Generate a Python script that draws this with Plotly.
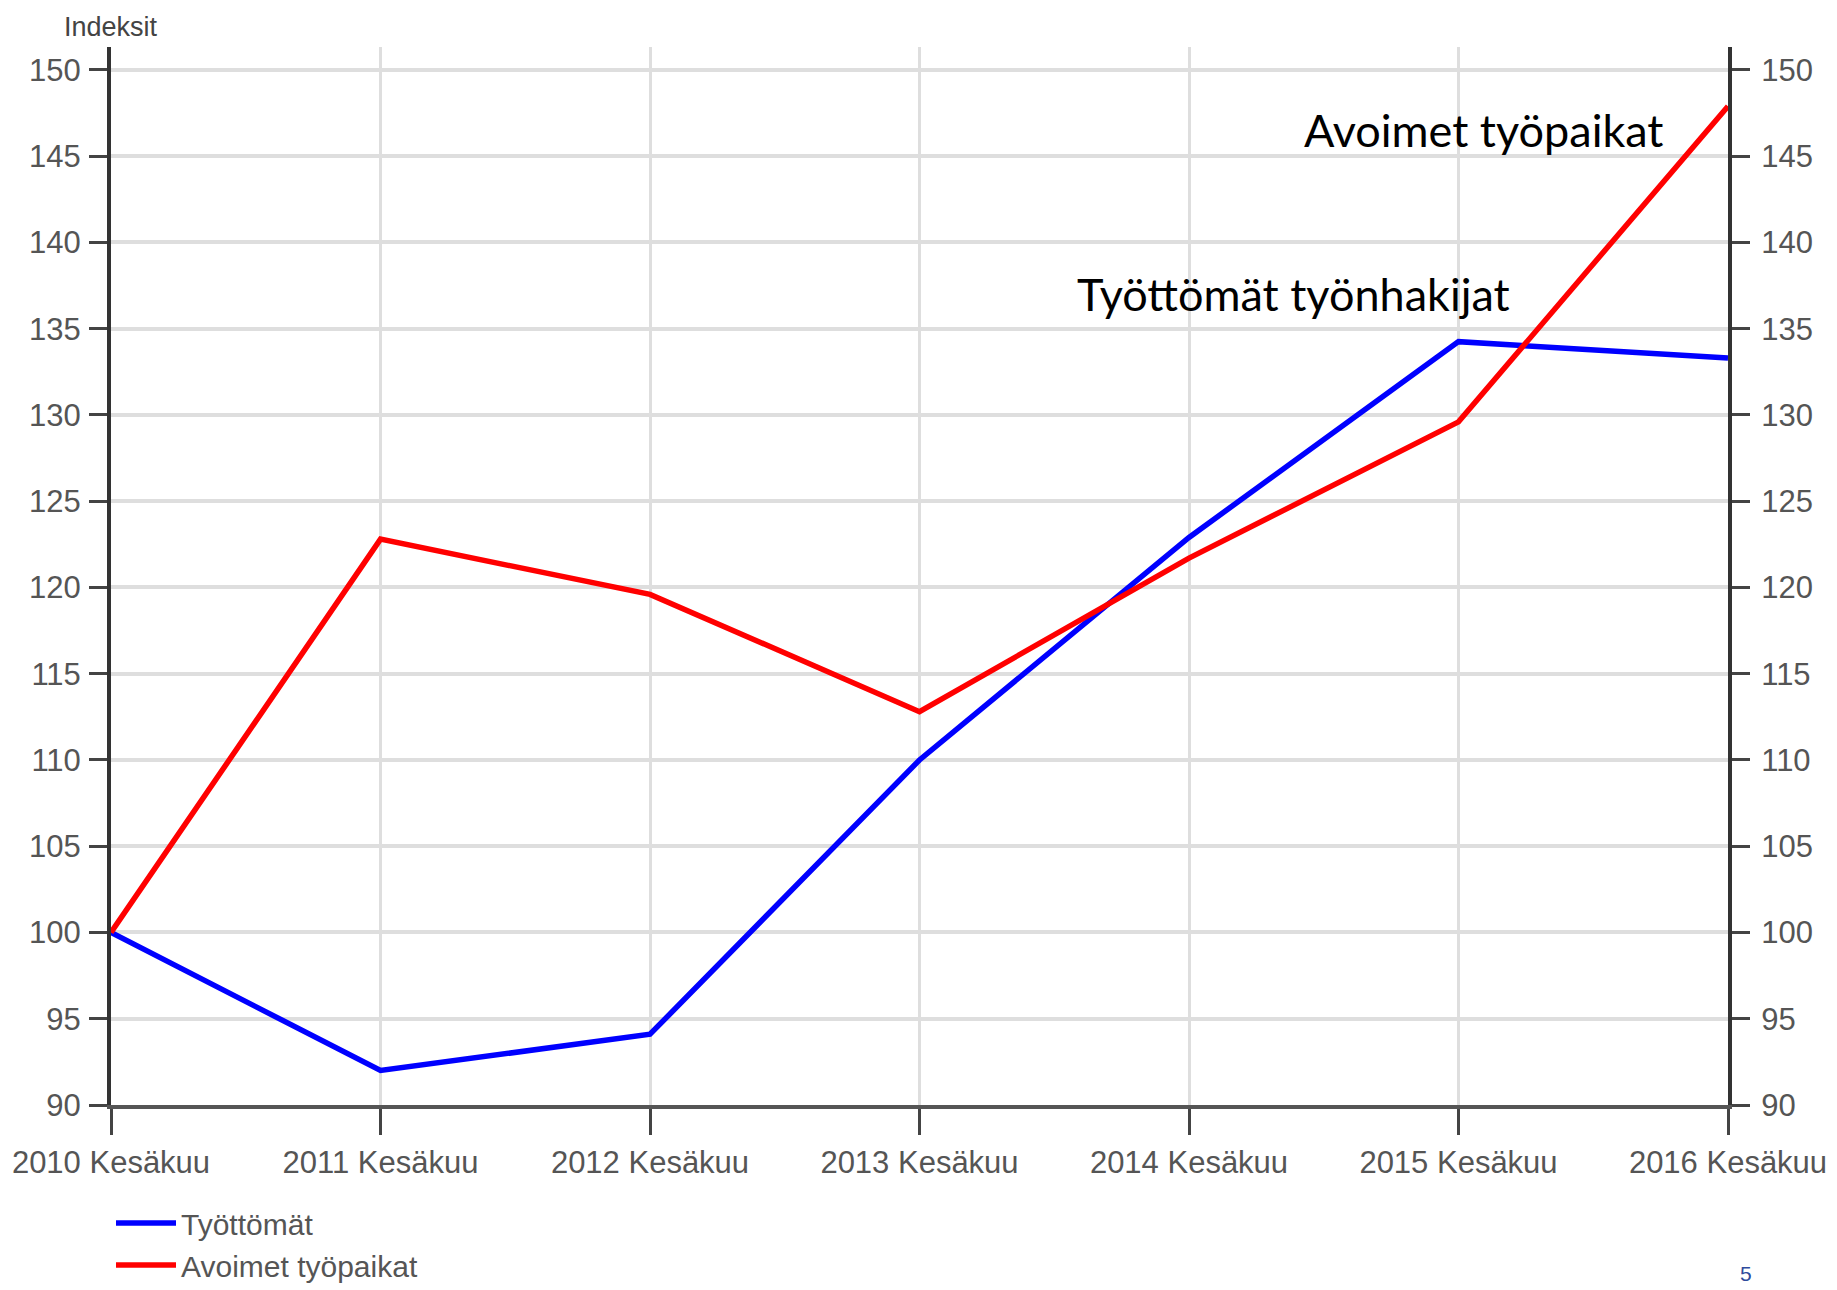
import plotly.graph_objects as go

categories = ["2010 Kesäkuu", "2011 Kesäkuu", "2012 Kesäkuu", "2013 Kesäkuu",
              "2014 Kesäkuu", "2015 Kesäkuu", "2016 Kesäkuu"]
tyottomat = [100, 92.0, 94.1, 110.0, 122.9, 134.25, 133.3]
avoimet = [100, 122.8, 119.6, 112.8, 121.7, 129.6, 147.9]
y_ticks = [90, 95, 100, 105, 110, 115, 120, 125, 130, 135, 140, 145, 150]

TICK_FONT = dict(family="Liberation Sans, Arial", size=31, color="#555555")
LEGEND_FONT = dict(family="Liberation Sans, Arial", size=30, color="#555555")
ANN_FONT = dict(family="Lato, Open Sans, sans-serif", size=45, color="#000000")
Y_RANGE = [90, 151.33]

fig = go.Figure()
fig.add_trace(go.Scatter(x=categories, y=tyottomat, mode="lines", name="Työttömät",
                         legendgroup="a", line=dict(color="#0000ff", width=5.5)))
fig.add_trace(go.Scatter(x=categories, y=avoimet, mode="lines", name="Avoimet työpaikat",
                         legendgroup="b", line=dict(color="#ff0000", width=5.5), yaxis="y2"))

axis_common = dict(range=Y_RANGE, tickvals=y_ticks, ticks="outside", ticklen=18,
                   tickwidth=3, tickcolor="#444444", tickfont=TICK_FONT,
                   showline=True, linewidth=4, linecolor="#333333", zeroline=False,
                   automargin=False)

# page body adds an 8 px offset, so the figure is sized to fill the window exactly
fig.update_layout(
    width=1829, height=1282,
    margin=dict(l=103, r=109, t=39, b=185, autoexpand=False),
    paper_bgcolor="white", plot_bgcolor="white",
    xaxis=dict(type="category", range=[0, 6], ticks="outside", ticklen=26, tickwidth=3,
               tickcolor="#444444", tickfont=TICK_FONT, showline=True, linewidth=4,
               linecolor="#555555", showgrid=True, gridcolor="#dedede", gridwidth=3,
               zeroline=False, automargin=False, ticklabelstandoff=1),
    yaxis=dict(side="left", showgrid=True, gridcolor="#dedede", gridwidth=3.5,
               ticklabelstandoff=2, **axis_common),
    yaxis2=dict(side="right", overlaying="y", showgrid=False, ticklabelstandoff=5,
                **axis_common),
    showlegend=True,
    legend=dict(x=0.0, y=-0.087, xanchor="left", yanchor="top", orientation="v",
                font=LEGEND_FONT, bgcolor="rgba(0,0,0,0)", itemwidth=60,
                tracegroupgap=0),
    annotations=[
        dict(text="Avoimet työpaikat", x=5.095, y=146.5, xref="x", yref="y",
             showarrow=False, font=ANN_FONT, xanchor="center", yanchor="middle"),
        dict(text="Työttömät työnhakijat", x=4.388, y=137.0, xref="x", yref="y",
             showarrow=False, font=ANN_FONT, xanchor="center", yanchor="middle"),
        dict(text="Indeksit", x=0, y=1.019, xref="paper", yref="paper",
             showarrow=False, font=dict(family=TICK_FONT["family"], size=27, color="#444444"),
             xanchor="center", yanchor="middle"),
        dict(text="5", x=1.011, y=-0.159, xref="paper", yref="paper",
             showarrow=False, font=dict(family="Liberation Sans, Arial", size=21, color="#2e4a9c"),
             xanchor="center", yanchor="middle"),
    ],
)

fig.write_html("out.html")
